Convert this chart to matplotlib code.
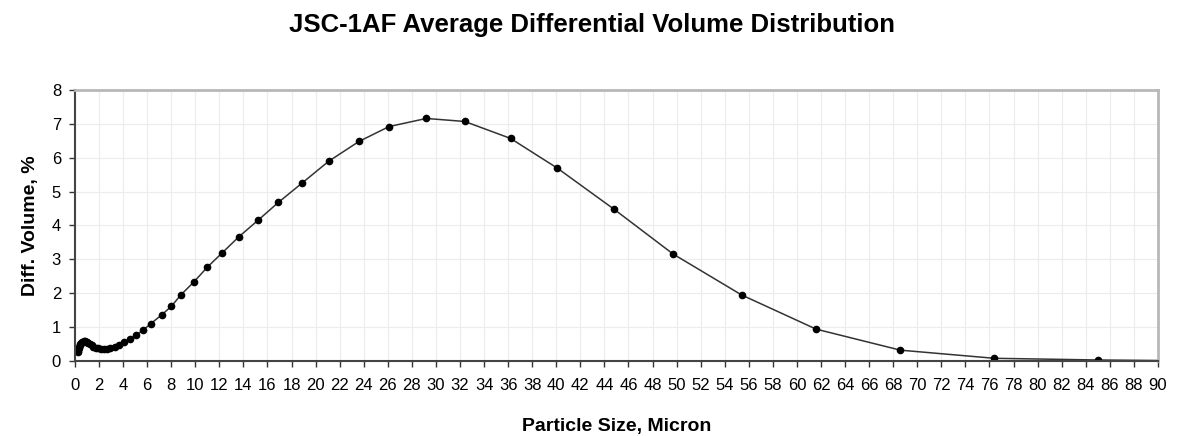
import matplotlib.pyplot as plt
import numpy as np

plt.rcParams['font.family'] = ['Liberation Sans', 'DejaVu Sans']

# particle size, micron
size = [0.22, 0.24, 0.27, 0.30, 0.34, 0.38, 0.42, 0.47, 0.52, 0.58,
        0.65, 0.72, 0.80, 0.90, 1.00, 1.11, 1.24, 1.38, 1.54, 1.72,
        1.91, 2.13, 2.38, 2.65, 2.95, 3.29, 3.66, 4.08, 4.55, 5.07,
        5.65, 6.30, 7.20, 8.00, 8.80, 9.90, 11.0, 12.2, 13.6, 15.2,
        16.9, 18.9, 21.1, 23.6, 26.1, 29.2, 32.4, 36.2, 40.1, 44.8,
        49.7, 55.4, 61.6, 68.6, 76.4, 85.0, 95.0]
# differential volume, %
volume = [0.28, 0.31, 0.34, 0.38, 0.42, 0.46, 0.49, 0.52, 0.54, 0.56,
          0.57, 0.58, 0.58, 0.57, 0.56, 0.53, 0.50, 0.46, 0.42, 0.39,
          0.37, 0.36, 0.36, 0.36, 0.38, 0.42, 0.48, 0.55, 0.65, 0.76,
          0.91, 1.10, 1.36, 1.61, 1.95, 2.34, 2.77, 3.18, 3.66, 4.15,
          4.68, 5.26, 5.90, 6.48, 6.92, 7.16, 7.07, 6.57, 5.69, 4.48,
          3.16, 1.95, 0.94, 0.32, 0.08, 0.03, 0.0]

fig = plt.figure(figsize=(11.84, 4.36), dpi=100)
ax = fig.add_axes([0.0633, 0.1720, 0.9147, 0.6216])

ax.plot(size, volume, color='#333333', lw=1.1, marker='o', ms=4.5,
        mfc='black', mec='black', clip_on=True)

ax.set_xlim(0, 90)
ax.set_ylim(0, 8)
ax.set_xticks(np.arange(0, 91, 2))
ax.set_yticks(np.arange(0, 9, 1))
ax.tick_params(labelsize=12, length=4, width=1, color='#333333', pad=6)
ax.tick_params(axis='x', pad=8)
ax.grid(color='#ececec', lw=0.8)
ax.set_axisbelow(True)

for s in ['left', 'bottom']:
    ax.spines[s].set_color('#444444')
    ax.spines[s].set_linewidth(1.5)
for s in ['top', 'right']:
    ax.spines[s].set_color('#b8b8b8')
    ax.spines[s].set_linewidth(2)

ax.set_xlabel('Particle Size, Micron', fontsize=14, fontweight='bold', labelpad=18)
ax.set_ylabel('Diff. Volume, %', fontsize=14, fontweight='bold', labelpad=9)
fig.suptitle('JSC-1AF Average Differential Volume Distribution',
             fontsize=18.5, fontweight='bold', x=0.5, y=0.97)

fig.savefig('out.png')
